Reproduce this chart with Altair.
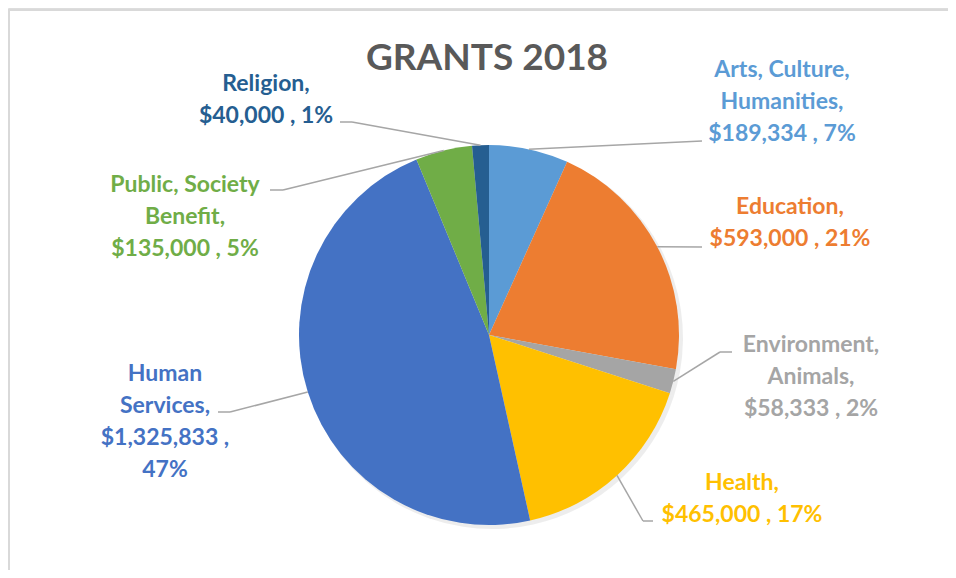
import altair as alt
import pandas as pd

# ---- data ----
categories = ["Arts, Culture, Humanities", "Education", "Environment, Animals",
              "Health", "Human Services", "Public, Society Benefit", "Religion"]
values = [189334, 593000, 58333, 465000, 1325833, 135000, 40000]
colors = ["#5B9BD5", "#ED7D31", "#A5A5A5", "#FFC000", "#4472C4", "#70AD47", "#255E91"]
label_lines = [
    "Arts, Culture,\nHumanities,\n$189,334 , 7%",
    "Education,\n$593,000 , 21%",
    "Environment,\nAnimals,\n$58,333 , 2%",
    "Health,\n$465,000 , 17%",
    "Human\nServices,\n$1,325,833 ,\n47%",
    "Public, Society\nBenefit,\n$135,000 , 5%",
    "Religion,\n$40,000 , 1%",
]
title_text = "GRANTS 2018"

# ---- layout (page pixel coordinates) ----
CX, CY, R = 489, 335, 190
label_x = [782, 790, 811, 742, 165, 185, 266]
label_y = [77, 214, 352, 490, 381, 192, 91]
elbow_x = [702, 702, 720, 643, 230, 283, 352]
elbow_y = [141, 247, 352, 521, 412, 190, 122]
end_x = [702, 702, 732, 653, 218, 270, 340]

df = pd.DataFrame({
    "idx": list(range(len(categories))),
    "cat": categories,
    "value": values,
    "label": label_lines,
    "lx": label_x, "ly": label_y,
    "bx": elbow_x, "by": elbow_y, "ex2": end_x,
})

W, H = 940, 562
xs = alt.Scale(domain=[8, 8 + W], range=[0, W], nice=False, zero=False)
ys = alt.Scale(domain=[8, 8 + H], range=[0, H], nice=False, zero=False)
cs = alt.Scale(domain=categories, range=colors)
FONT = "Lato"

base = alt.Chart(df)

shadow = base.mark_arc(color="#000000", opacity=0.07).encode(
    theta=alt.Theta("value:Q", stack=True),
    order=alt.Order("idx:Q"),
    radius=alt.value(R + 1),
    x=alt.value(CX - 8 + 3),
    y=alt.value(CY - 8 + 3),
)

pie = base.mark_arc().encode(
    theta=alt.Theta("value:Q", stack=True),
    order=alt.Order("idx:Q"),
    color=alt.Color("cat:N", scale=cs, legend=None),
    radius=alt.value(R),
    x=alt.value(CX - 8),
    y=alt.value(CY - 8),
)

geo = base.transform_joinaggregate(
    total="sum(value)"
).transform_window(
    cum="sum(value)", sort=[alt.SortField("idx")], frame=[None, 0]
).transform_calculate(
    mid="(datum.cum - datum.value/2) / datum.total * 2 * PI",
    sx=f"{CX} + {R} * sin(datum.mid)",
    sy=f"{CY} - {R} * cos(datum.mid)",
)

diag = geo.mark_rule(color="#A6A6A6", strokeWidth=1.5).encode(
    x=alt.X("sx:Q", scale=xs, axis=None),
    y=alt.Y("sy:Q", scale=ys, axis=None),
    x2="bx:Q",
    y2="by:Q",
)

horiz = geo.mark_rule(color="#A6A6A6", strokeWidth=1.5).encode(
    x=alt.X("bx:Q", scale=xs, axis=None),
    y=alt.Y("by:Q", scale=ys, axis=None),
    x2="ex2:Q",
    y2="by:Q",
)

labels = base.mark_text(
    font=FONT, fontSize=23, fontWeight="bold", align="center",
    baseline="alphabetic", lineBreak="\n", lineHeight=32,
).encode(
    x=alt.X("lx:Q", scale=xs, axis=None),
    y=alt.Y("ly:Q", scale=ys, axis=None),
    text="label:N",
    color=alt.Color("cat:N", scale=cs, legend=None),
)

title = alt.Chart(pd.DataFrame({"t": [title_text]})).mark_text(
    font=FONT, fontSize=37, fontWeight="bold", color="#595959",
    align="center", baseline="alphabetic",
).encode(
    x=alt.X("tx:Q", scale=xs, axis=None),
    y=alt.Y("ty:Q", scale=ys, axis=None),
    text="t:N",
).transform_calculate(tx="487", ty="70")

frame_left = alt.Chart(pd.DataFrame({"k": [0]})).mark_rule(
    color="#D9D9D9", strokeWidth=2
).encode(x=alt.value(1), y=alt.value(1), y2=alt.value(H))

frame_top = alt.Chart(pd.DataFrame({"k": [0]})).mark_rule(
    color="#D9D9D9", strokeWidth=2
).encode(x=alt.value(1), x2=alt.value(W), y=alt.value(2))

chart = alt.layer(frame_left, frame_top, shadow, pie, diag, horiz, labels, title).properties(
    width=W, height=H, padding=0,
    autosize=alt.AutoSizeParams(type="none"),
).configure_view(
    strokeWidth=0
).configure(background="white")

chart.save("out.html", embed_options={"renderer": "svg", "actions": False})
